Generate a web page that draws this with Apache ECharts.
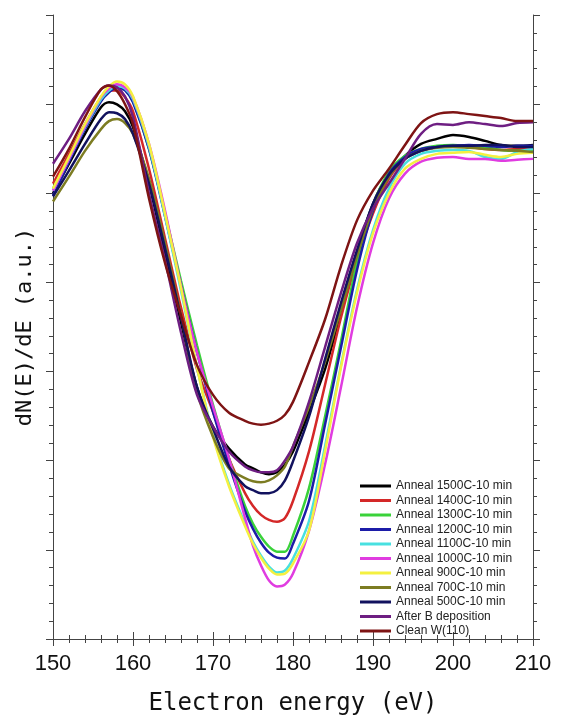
<!DOCTYPE html>
<html>
<head>
<meta charset="utf-8">
<script src="https://cdn.jsdelivr.net/npm/echarts@6/dist/echarts.min.js"></script>
<style>
  html, body { margin: 0; padding: 0; background: #fff; }
  #chart { width: 566px; height: 721px; }
</style>
</head>
<body>
<div id="chart"></div>
<script>
// electron energy (eV) sample points
var energy = [150,152,154,156,157,158,159,160,162,164,166,168,170,172,174,175,176,177,178,179,180,182,184,186,188,190,192,194,196,198,200,202,204,206,208,210];

// dN(E)/dE in arbitrary units
var anneal1500 = [24.99,26.66,28.33,29.83,30.11,29.99,29.60,28.71,25.54,21.65,17.75,14.13,11.91,10.68,9.79,9.57,9.35,9.24,9.35,9.79,10.52,12.74,15.14,18.31,21.65,24.42,26.10,27.10,27.77,28.05,28.27,28.16,27.94,27.71,27.66,27.71];
var anneal1400 = [25.54,27.21,28.88,30.39,30.77,30.77,30.39,29.60,26.38,22.48,18.59,15.14,12.74,10.13,8.18,7.46,6.96,6.68,6.57,6.79,7.74,10.52,14.25,18.03,21.26,23.87,25.82,26.93,27.38,27.60,27.66,27.60,27.49,27.43,27.49,27.43];
var anneal1300 = [25.26,26.93,28.71,30.27,30.77,31.00,30.83,30.16,27.49,23.87,20.09,16.47,13.13,10.13,7.46,6.46,5.73,5.18,4.90,4.90,5.79,8.46,12.47,16.70,21.15,24.32,26.21,27.10,27.49,27.66,27.71,27.66,27.60,27.43,27.38,27.38];
var anneal1200 = [24.87,26.77,28.60,30.16,30.66,30.94,30.77,30.11,27.49,23.71,19.81,16.08,12.74,9.79,7.18,6.18,5.40,4.84,4.56,4.51,5.34,7.74,12.02,16.36,20.70,24.04,26.10,27.04,27.49,27.60,27.66,27.71,27.66,27.60,27.66,27.66];
var anneal1100 = [25.15,26.93,28.71,30.27,30.77,31.00,30.88,30.27,27.60,23.71,19.53,15.25,11.46,8.68,6.46,5.45,4.67,4.06,3.73,3.84,4.51,6.62,10.80,15.36,19.59,22.93,25.26,26.66,27.21,27.38,27.43,27.38,27.04,26.93,27.32,27.49];
var anneal1000 = [25.15,26.93,28.77,30.39,30.88,31.11,30.94,30.39,27.77,24.04,19.81,16.08,13.02,10.13,6.79,5.23,4.12,3.28,2.95,3.06,3.67,6.07,9.79,14.13,18.59,22.20,24.71,26.10,26.77,26.99,27.04,26.93,26.93,26.82,26.88,26.93];
var anneal900 = [25.26,27.04,28.88,30.44,31.00,31.27,31.11,30.44,27.77,23.87,19.70,15.25,11.35,8.57,6.34,5.34,4.56,3.95,3.62,3.67,4.23,6.07,10.52,15.25,19.42,22.76,24.99,26.38,26.93,27.21,27.27,27.32,27.16,27.04,27.21,27.27];
var anneal700 = [24.54,25.93,27.38,28.60,29.05,29.16,28.94,28.33,25.82,22.20,18.14,13.86,11.35,9.57,9.02,8.85,8.79,8.90,9.18,9.68,10.80,13.02,15.53,18.48,21.48,24.15,25.93,26.93,27.38,27.55,27.60,27.55,27.49,27.43,27.38,27.32];
var anneal500 = [24.82,26.27,27.77,29.16,29.55,29.49,29.16,28.33,25.54,21.93,18.03,14.13,11.80,9.68,8.57,8.35,8.18,8.18,8.35,8.90,9.96,12.47,15.69,18.86,21.81,24.42,26.04,26.93,27.38,27.60,27.66,27.66,27.71,27.71,27.60,27.60];
var afterB = [26.66,28.05,29.60,30.83,31.05,30.94,30.44,29.27,24.99,21.26,17.20,13.69,11.91,10.52,9.68,9.46,9.35,9.35,9.46,10.02,10.80,13.30,16.36,19.42,22.20,24.15,25.54,26.93,28.33,28.88,28.83,28.99,28.88,28.77,28.94,28.99];
var cleanW = [25.93,27.49,29.27,30.83,31.05,30.72,29.99,28.88,24.71,21.09,18.14,15.36,13.69,12.69,12.24,12.08,12.02,12.08,12.24,12.58,13.30,15.53,17.92,20.92,23.48,25.15,26.38,27.71,28.94,29.44,29.55,29.44,29.33,29.22,29.05,29.05];

var names = ['Anneal 1500C-10 min','Anneal 1400C-10 min','Anneal 1300C-10 min','Anneal 1200C-10 min',
  'Anneal 1100C-10 min','Anneal 1000C-10 min','Anneal 900C-10 min','Anneal 700C-10 min',
  'Anneal 500C-10 min','After B deposition','Clean W(110)'];
var values = [anneal1500, anneal1400, anneal1300, anneal1200, anneal1100, anneal1000,
  anneal900, anneal700, anneal500, afterB, cleanW];
var colors = ['#000000','#d42828','#3ad23a','#1c1ca8','#48e0e0','#e03ce0',
  '#f4f040','#7c7c22','#12125e','#6e1e82','#7e1414'];

var axisColor = '#444';

var series = names.map(function (n, i) {
  return {
    name: n,
    type: 'line',
    smooth: 0.3,
    showSymbol: false,
    color: colors[i],
    lineStyle: { width: 2.5 },
    data: energy.map(function (e, j) { return [e, values[i][j]]; })
  };
});

var tickX = {
  type: 'value', min: 150, max: 210, interval: 10,
  splitLine: { show: false },
  axisLine: { show: true, lineStyle: { color: axisColor, width: 1 } },
  axisTick: { show: true, length: 7, lineStyle: { color: axisColor } },
  minorTick: { show: true, splitNumber: 5, length: 4, lineStyle: { color: axisColor } }
};
var tickY = {
  type: 'value', min: 0, max: 35, interval: 5,
  splitLine: { show: false },
  axisLine: { show: true, lineStyle: { color: axisColor, width: 1 } },
  axisTick: { show: true, length: 7, lineStyle: { color: axisColor } },
  minorTick: { show: true, splitNumber: 5, length: 4, lineStyle: { color: axisColor } },
  axisLabel: { show: false }
};

var chart = echarts.init(document.getElementById('chart'));
chart.setOption({
  animation: false,
  backgroundColor: '#fff',
  grid: { left: 53, right: 33, top: 15, bottom: 77 },
  legend: {
    orient: 'vertical',
    left: 355, top: 475,
    icon: 'rect',
    itemWidth: 31, itemHeight: 3, itemGap: 2.5,
    textStyle: { fontFamily: 'Liberation Sans', fontSize: 12, color: '#222' },
    data: names
  },
  xAxis: [
    Object.assign({}, tickX, {
      position: 'bottom',
      axisLabel: { fontFamily: 'Liberation Sans', fontSize: 22, color: '#111', margin: 14 },
      name: 'Electron energy (eV)',
      nameLocation: 'middle', nameGap: 53,
      nameTextStyle: { fontFamily: 'DejaVu Sans Mono', fontSize: 24, color: '#111' }
    }),
    Object.assign({}, tickX, { position: 'top', axisLabel: { show: false } })
  ],
  yAxis: [
    Object.assign({}, tickY, {
      position: 'left',
      name: 'dN(E)/dE (a.u.)',
      nameLocation: 'middle', nameGap: 17,
      nameTextStyle: { fontFamily: 'DejaVu Sans Mono', fontSize: 22, color: '#111' }
    }),
    Object.assign({}, tickY, { position: 'right' })
  ],
  series: series
});
</script>
</body>
</html>
